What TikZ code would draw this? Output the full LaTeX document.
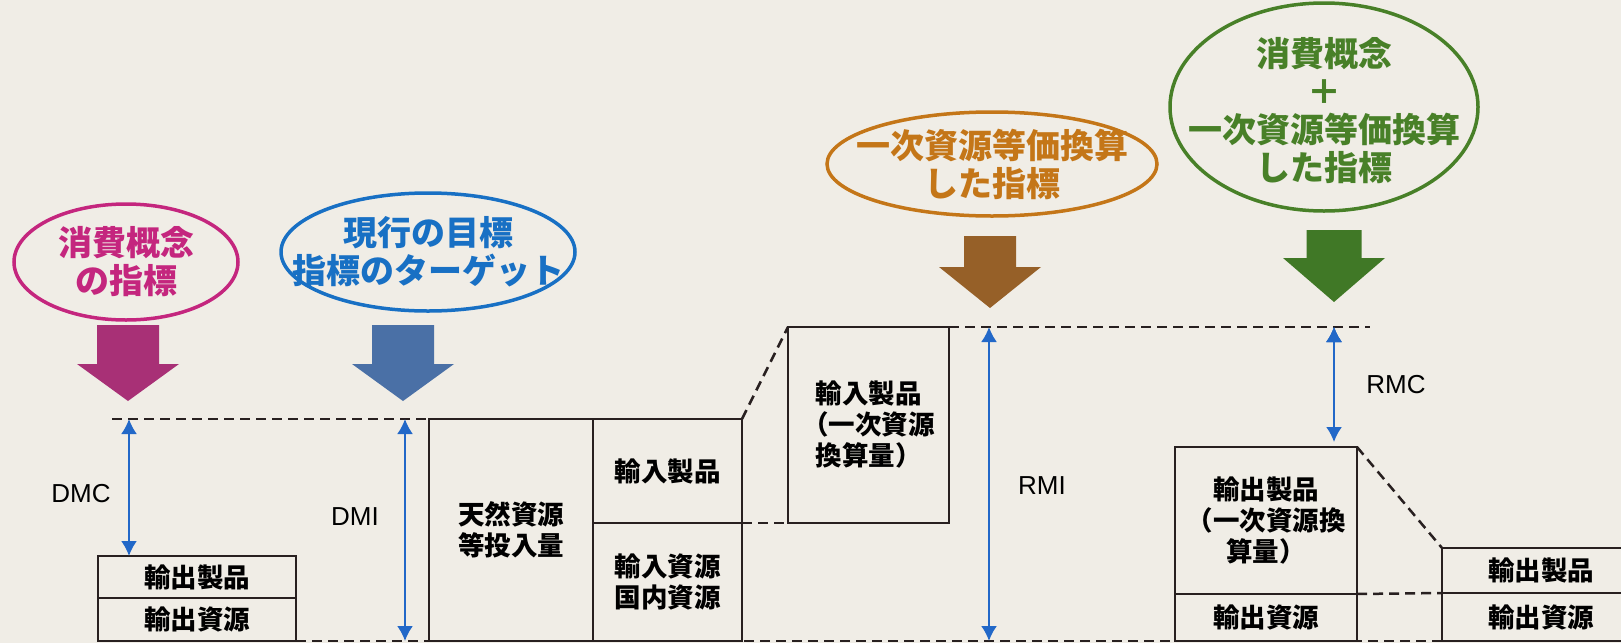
\documentclass[tikz,border=0pt]{standalone}
\usepackage{fontspec}
\setmainfont{Liberation Sans}
\newfontfamily\jp{Noto Sans CJK JP}
\usetikzlibrary{positioning,shapes.geometric,arrows.meta}
\definecolor{paper}{RGB}{240,237,230}
\definecolor{boxline}{RGB}{40,32,32}
\definecolor{spanblue}{RGB}{34,104,200}
\definecolor{pinkc}{RGB}{196,38,126}
\definecolor{pinkarr}{RGB}{168,48,118}
\definecolor{bluec}{RGB}{24,112,196}
\definecolor{bluearr}{RGB}{74,112,166}
\definecolor{brownc}{RGB}{196,118,24}
\definecolor{brownarr}{RGB}{150,96,40}
\definecolor{greenc}{RGB}{72,128,40}
\definecolor{greenarr}{RGB}{64,120,38}
% fat arrow: colour, top centre, shaft half width, shaft length, total length
\newcommand*\fatarrow[5]{%
  \fill[#1, shift={#2}] (-#3,0) -- (#3,0) -- (#3,#4) -- (51,#4) -- (0,#5)
    -- (-51,#4) -- (-#3,#4) -- cycle;}

\begin{document}
\begin{tikzpicture}[
    x=1pt, y=-1pt,
    >={Latex[length=15pt,width=16pt]},
    ell/.style={draw=#1, ellipse, line width=3.5pt, inner sep=0pt},
    elltext/.style={text=#1, align=center, inner sep=0pt,
      font=\jp\bfseries\fontsize{34}{38}\selectfont},
    box/.style={draw=boxline, line width=2.3pt, inner sep=0pt, outer sep=0pt, align=center,
      font=\jp\bfseries\fontsize{26.5}{31}\selectfont},
    guide/.style={draw=boxline, line width=2.5pt, dash pattern=on 10pt off 6pt},
    span/.style={<->, draw=spanblue, fill=spanblue, line width=2pt},
    tag/.style={font=\fontsize{26}{30}\selectfont},
  ]
  \useasboundingbox[fill=paper] (0,0) rectangle (1621,643);
  \clip (0,0) rectangle (1621,643);

  % indicators
  \node[ell=pinkc, minimum width=224, minimum height=116] (consum) at (126,262) {};
  \node[elltext=pinkc] (consumtxt) at (consum) {消費概念\\の指標};
  \node[ell=bluec, minimum width=294, minimum height=118] (current) at (428,252) {};
  \node[elltext=bluec] (currenttxt) at (current) {現行の目標\\指標のターゲット};
  \node[ell=brownc, minimum width=330, minimum height=104] (primary) at (992,164) {};
  \node[elltext=brownc] (primarytxt) at (primary) {一次資源等価換算\\した指標};
  \node[ell=greenc, minimum width=308, minimum height=208] (both) at (1324,107) {};
  \node[elltext=greenc] (bothtxt) at ([yshift=-4]both) {消費概念\\＋\\一次資源等価換算\\した指標};

  \fatarrow{pinkarr}{(128,325)}{31}{39}{76}
  \fatarrow{bluearr}{(403,325)}{31}{39}{76}
  \fatarrow{brownarr}{(990,236)}{26}{31}{72}
  \fatarrow{greenarr}{(1334,230)}{27.5}{28}{72}

  % material boxes
  \node[box, anchor=north west, minimum width=198, minimum height=42] (dmcprod) at (98,556) {輸出製品};
  \node[box, anchor=north, minimum width=198, minimum height=43] (dmcres) at (dmcprod.south) {輸出資源};
  \node[box, anchor=north west, minimum width=164, minimum height=222] (natural) at (429,419) {天然資源\\等投入量};
  \node[box, anchor=north west, minimum width=149, minimum height=104] (impprod) at (natural.north east) {輸入製品};
  \node[box, anchor=north west, minimum width=149, minimum height=118] (impres) at (impprod.south west) {輸入資源\\国内資源};
  \node[box, anchor=north west, minimum width=161, minimum height=196] (rmiprod) at (788,327) {輸入製品\\（一次資源\\換算量）};
  \node[box, anchor=north west, minimum width=182, minimum height=147] (rmcprod) at (1175,447) {輸出製品\\（一次資源換\\算量）};
  \node[box, anchor=north, minimum width=182, minimum height=47] (rmcres) at (rmcprod.south) {輸出資源};
  \node[box, anchor=north west, minimum width=198, minimum height=45] (farprod) at (1442,548) {輸出製品};
  \node[box, anchor=north, minimum width=198, minimum height=48] (farres) at (farprod.south) {輸出資源};

  % dashed guides
  \coordinate (dmcleft) at (112,419);
  \coordinate (rmiright) at (1370,327);
  \draw[guide] (dmcleft) -- (natural.north west);
  \draw[guide] (impprod.north east) -- (rmiprod.north west);
  \draw[guide] (impprod.south east) -- (rmiprod.south west);
  \draw[guide] (rmiprod.north east) -- (rmiright);
  \draw[guide] (rmcprod.north east) -- (farprod.north west);
  \draw[guide] (rmcprod.south east) -- (farprod.south west);
  \draw[guide] (dmcres.south east) -- (farres.south west);

  % spans
  \coordinate (dmctop) at (129,419);
  \coordinate (dmitop) at (405,419);
  \coordinate (rmitop) at (989,327);
  \coordinate (rmctop) at (1334,327);
  \coordinate (rmcend) at (1334,442);
  \path[span]
    (dmctop) edge (dmctop |- dmcprod.north)
    (dmitop) edge (dmitop |- natural.south)
    (rmitop) edge (rmitop |- natural.south)
    (rmctop) edge (rmcend);

  \node[tag] (dmc) at (81,494) {DMC};
  \node[tag] (dmi) at (355,517) {DMI};
  \node[tag] (rmi) at (1042,486) {RMI};
  \node[tag] (rmc) at (1396,385) {RMC};
\end{tikzpicture}
\end{document}
